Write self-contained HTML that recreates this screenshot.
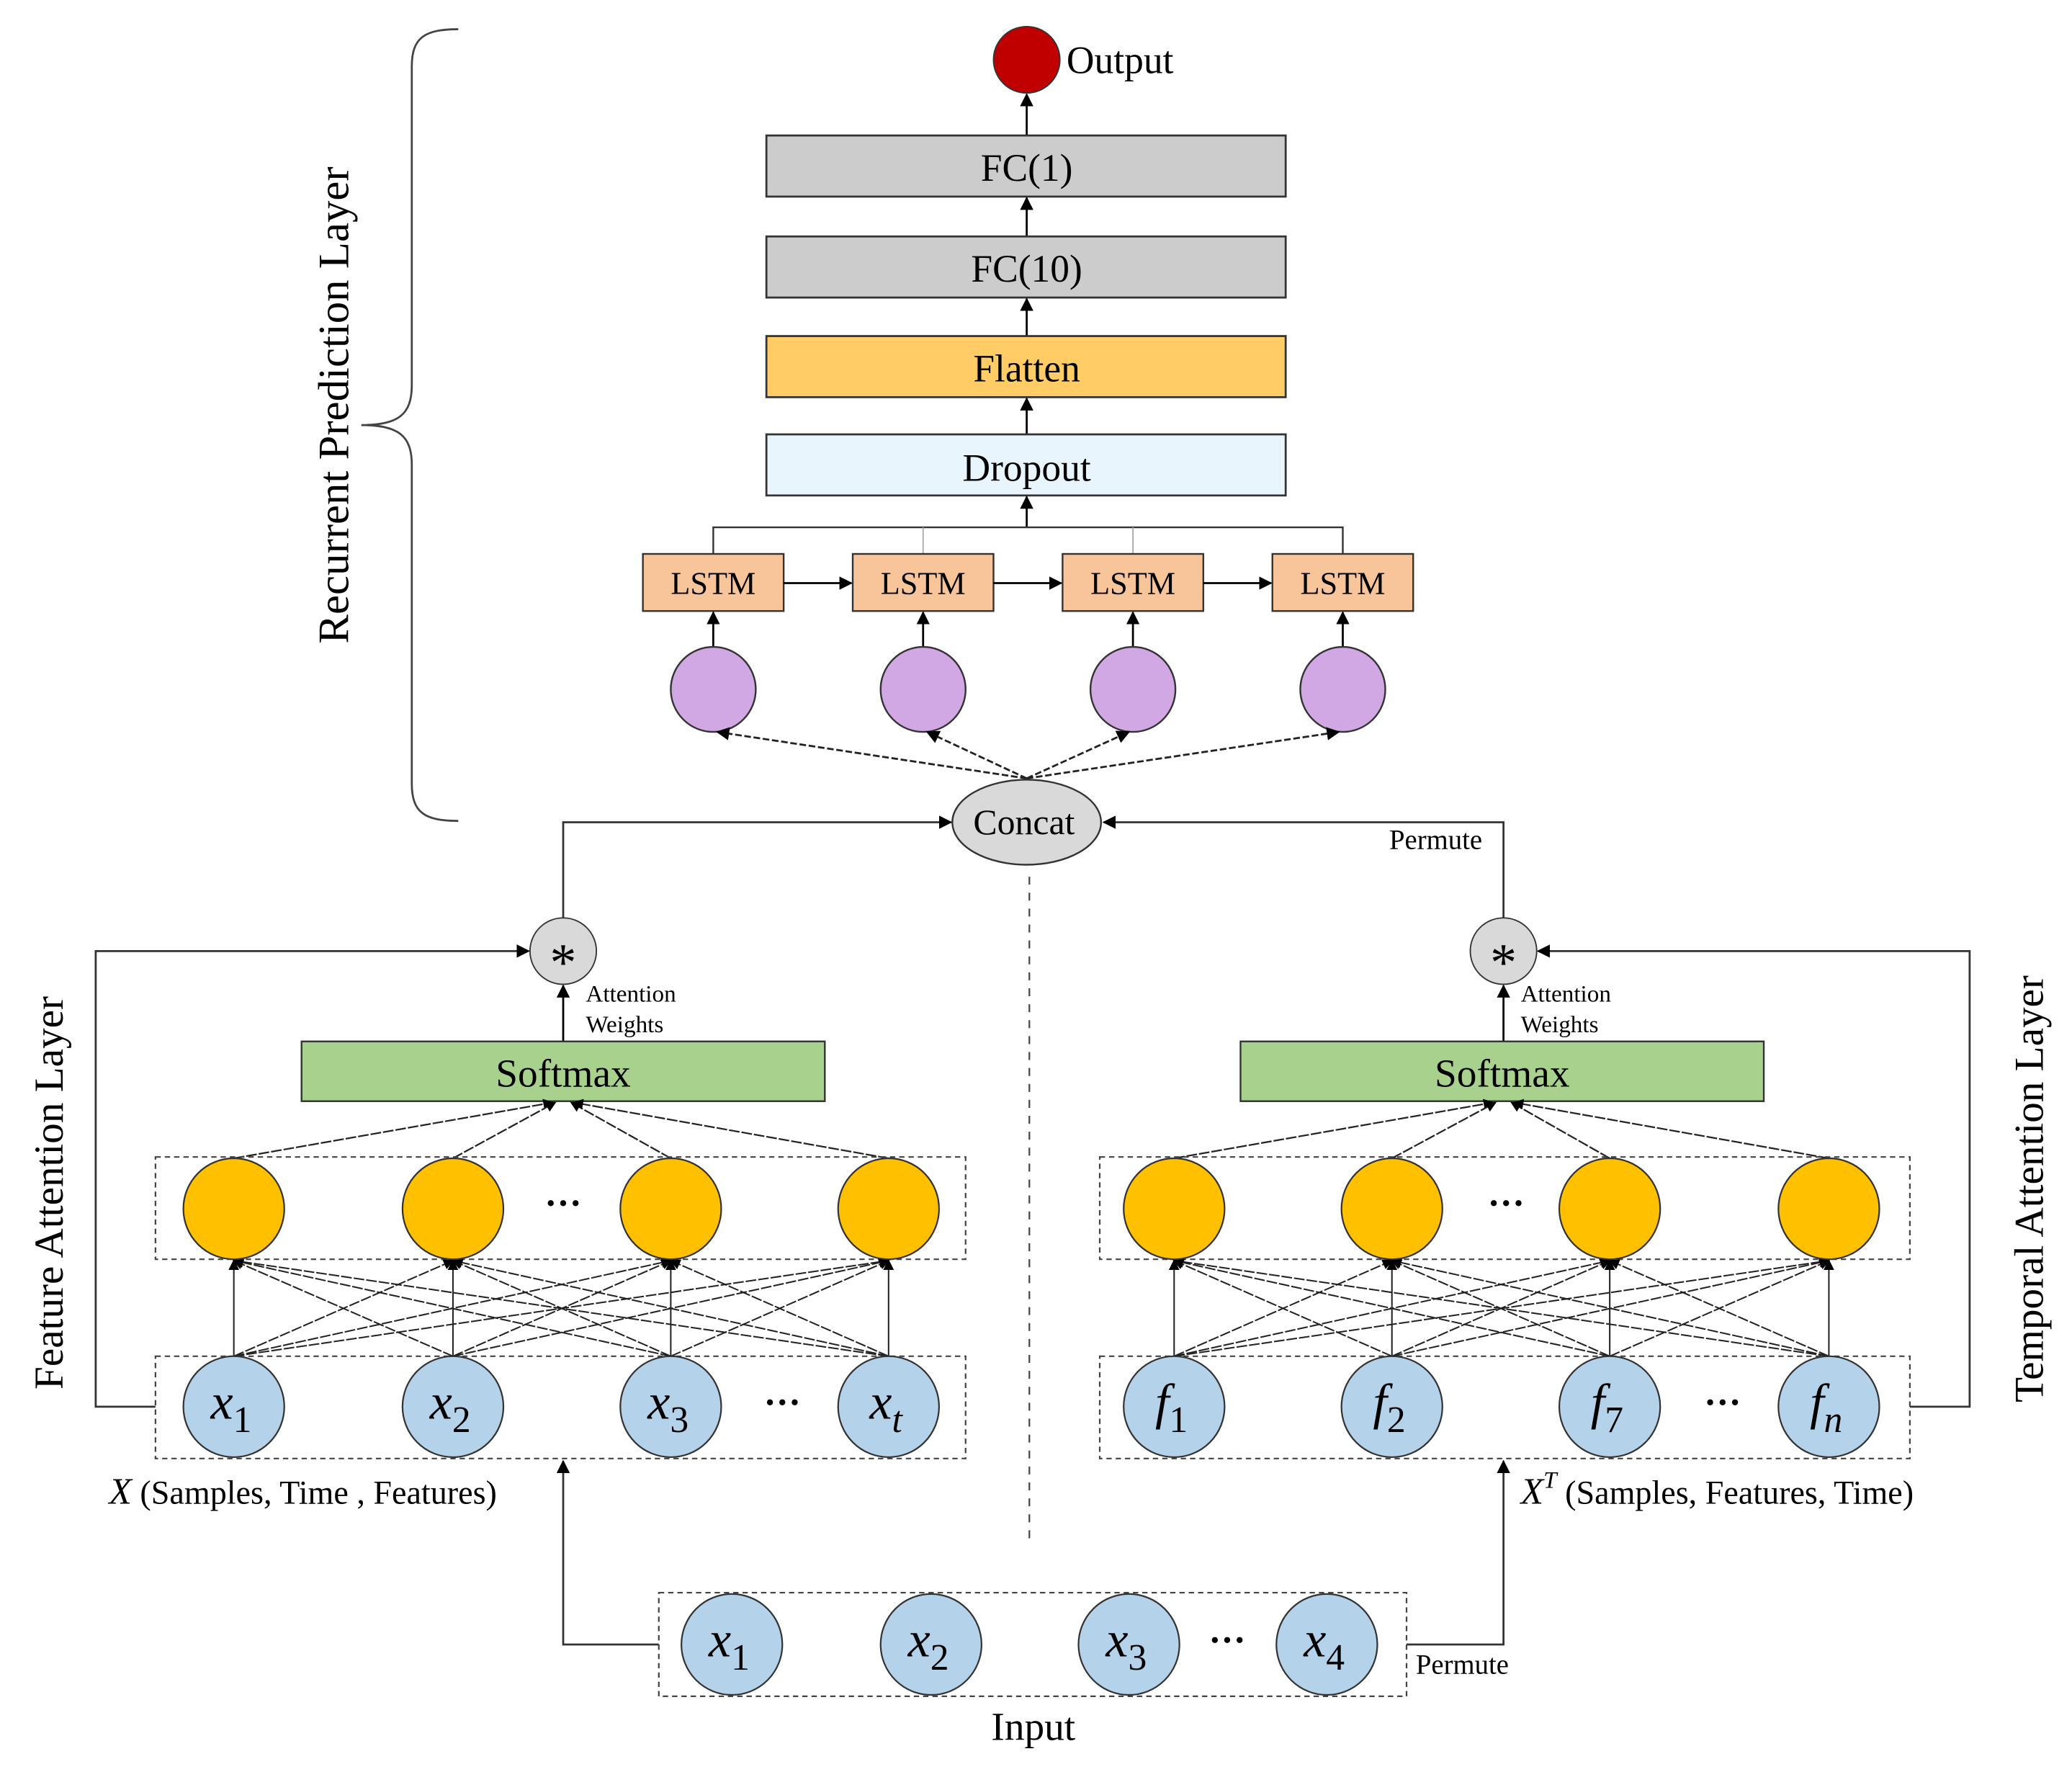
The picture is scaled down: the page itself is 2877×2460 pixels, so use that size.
<!DOCTYPE html>
<html><head><meta charset="utf-8"><style>
html,body{margin:0;padding:0;background:#fff;}
svg{display:block;}
text{font-family:"Liberation Serif",serif;fill:#000;}
</style></head><body>
<svg width="2877" height="2460" viewBox="0 0 1560 1334" xmlns="http://www.w3.org/2000/svg">
<defs>
<marker id="a" markerWidth="10" markerHeight="10" refX="9" refY="5" orient="auto" markerUnits="userSpaceOnUse"><path d="M0,0 L10,5 L0,10 z" fill="#000"/></marker>
<marker id="s" markerWidth="8" markerHeight="8" refX="7" refY="4" orient="auto" markerUnits="userSpaceOnUse"><path d="M0,0 L8,4 L0,8 z" fill="#000"/></marker>
</defs>
<rect width="1560" height="1334" fill="#fff"/>

<!-- brace -->
<path d="M345,22 C320,22 310,28 310,50 L310,290 C310,312 300,320 272,320 C300,320 310,328 310,350 L310,590 C310,612 320,618 345,618" fill="none" stroke="#444" stroke-width="1.5"/>
<text transform="translate(262,305) rotate(-90)" text-anchor="middle" font-size="33">Recurrent Prediction Layer</text>
<text transform="translate(47,898) rotate(-90)" text-anchor="middle" font-size="31">Feature Attention Layer</text>
<text transform="translate(1538,895) rotate(-90)" text-anchor="middle" font-size="31">Temporal Attention Layer</text>

<!-- output -->
<line x1="773" y1="102" x2="773" y2="71" stroke="#000" stroke-width="1.5" marker-end="url(#a)"/>
<circle cx="773" cy="45" r="25" fill="#c00000" stroke="#333"/>
<text x="803" y="55" font-size="29">Output</text>

<rect x="577" y="102" width="391" height="46" fill="#cccccc" stroke="#333" stroke-width="1.5"/>
<text x="773" y="136" text-anchor="middle" font-size="29">FC(1)</text>
<line x1="773" y1="178" x2="773" y2="149" stroke="#000" stroke-width="1.5" marker-end="url(#a)"/>
<rect x="577" y="178" width="391" height="46" fill="#cccccc" stroke="#333" stroke-width="1.5"/>
<text x="773" y="212" text-anchor="middle" font-size="29">FC(10)</text>
<line x1="773" y1="253" x2="773" y2="225" stroke="#000" stroke-width="1.5" marker-end="url(#a)"/>
<rect x="577" y="253" width="391" height="46" fill="#ffcc66" stroke="#333" stroke-width="1.5"/>
<text x="773" y="287" text-anchor="middle" font-size="29">Flatten</text>
<line x1="773" y1="327" x2="773" y2="300" stroke="#000" stroke-width="1.5" marker-end="url(#a)"/>
<rect x="577" y="327" width="391" height="46" fill="#e8f5fd" stroke="#333" stroke-width="1.5"/>
<text x="773" y="362" text-anchor="middle" font-size="29">Dropout</text>
<line x1="773" y1="397" x2="773" y2="374" stroke="#000" stroke-width="1.5" marker-end="url(#a)"/>

<!-- LSTM bus -->
<path d="M537,417 L537,397 L1011,397 L1011,417" fill="none" stroke="#333" stroke-width="1.3"/>
<line x1="695" y1="397" x2="695" y2="417" stroke="#aaa"/>
<line x1="853" y1="397" x2="853" y2="417" stroke="#aaa"/>
<g fill="#f8c49a" stroke="#333" stroke-width="1.3">
<rect x="484" y="417" width="106" height="43"/><rect x="642" y="417" width="106" height="43"/>
<rect x="800" y="417" width="106" height="43"/><rect x="958" y="417" width="106" height="43"/>
</g>
<g font-size="24" text-anchor="middle">
<text x="537" y="447">LSTM</text><text x="695" y="447">LSTM</text><text x="853" y="447">LSTM</text><text x="1011" y="447">LSTM</text>
</g>
<g stroke="#000" stroke-width="1.5">
<line x1="590" y1="439" x2="641" y2="439" marker-end="url(#a)"/>
<line x1="748" y1="439" x2="799" y2="439" marker-end="url(#a)"/>
<line x1="906" y1="439" x2="957" y2="439" marker-end="url(#a)"/>
<line x1="537" y1="488" x2="537" y2="461" marker-end="url(#a)"/>
<line x1="695" y1="488" x2="695" y2="461" marker-end="url(#a)"/>
<line x1="853" y1="488" x2="853" y2="461" marker-end="url(#a)"/>
<line x1="1011" y1="488" x2="1011" y2="461" marker-end="url(#a)"/>
</g>
<g fill="#d2a8e4" stroke="#333" stroke-width="1.3">
<ellipse cx="537" cy="519" rx="32" ry="32"/><ellipse cx="695" cy="519" rx="32" ry="32"/>
<ellipse cx="853" cy="519" rx="32" ry="32"/><ellipse cx="1011" cy="519" rx="32" ry="32"/>
</g>
<g stroke="#222" stroke-width="1.5" stroke-dasharray="5,2">
<line x1="773" y1="586" x2="540" y2="551" marker-end="url(#a)"/>
<line x1="773" y1="586" x2="698" y2="551" marker-end="url(#a)"/>
<line x1="773" y1="586" x2="850" y2="551" marker-end="url(#a)"/>
<line x1="773" y1="586" x2="1008" y2="551" marker-end="url(#a)"/>
</g>

<!-- concat -->
<ellipse cx="773" cy="619" rx="56" ry="32" fill="#d9d9d9" stroke="#333" stroke-width="1.3"/>
<text x="771" y="628" text-anchor="middle" font-size="27">Concat</text>
<path d="M424,691 L424,619 L716,619" fill="none" stroke="#333" stroke-width="1.5" marker-end="url(#a)"/>
<path d="M1132,691 L1132,619 L831,619" fill="none" stroke="#333" stroke-width="1.5" marker-end="url(#a)"/>
<text x="1046" y="639" font-size="21">Permute</text>
<line x1="775" y1="660" x2="775" y2="1162" stroke="#444" stroke-width="1.2" stroke-dasharray="6,6"/>

<!-- star nodes -->
<circle cx="424" cy="716" r="25" fill="#d9d9d9" stroke="#333"/>
<text x="424" y="738" text-anchor="middle" font-size="40">*</text>
<circle cx="1132" cy="716" r="25" fill="#d9d9d9" stroke="#333"/>
<text x="1132" y="738" text-anchor="middle" font-size="40">*</text>
<g stroke="#000" stroke-width="1.5">
<line x1="424" y1="784" x2="424" y2="742" marker-end="url(#a)"/>
<line x1="1132" y1="784" x2="1132" y2="742" marker-end="url(#a)"/>
</g>
<g font-size="18"><text x="441" y="754">Attention</text><text x="441" y="777">Weights</text>
<text x="1145" y="754">Attention</text><text x="1145" y="777">Weights</text></g>

<!-- feedback lines -->
<path d="M117,1059 L72,1059 L72,716 L398,716" fill="none" stroke="#333" stroke-width="1.5" marker-end="url(#a)"/>
<path d="M1438,1059 L1483,1059 L1483,716 L1158,716" fill="none" stroke="#333" stroke-width="1.5" marker-end="url(#a)"/>

<!-- softmax -->
<rect x="227" y="784" width="394" height="45" fill="#a9d18e" stroke="#333" stroke-width="1.3"/>
<text x="424" y="818" text-anchor="middle" font-size="30">Softmax</text>
<rect x="934" y="784" width="394" height="45" fill="#a9d18e" stroke="#333" stroke-width="1.3"/>
<text x="1131" y="818" text-anchor="middle" font-size="30">Softmax</text>

<g stroke="#222" stroke-width="1.2" stroke-dasharray="8,1.5">
<line x1="176" y1="872" x2="416" y2="830" marker-end="url(#s)"/>
<line x1="341" y1="872" x2="418" y2="830" marker-end="url(#s)"/>
<line x1="505" y1="872" x2="430" y2="830" marker-end="url(#s)"/>
<line x1="669" y1="872" x2="432" y2="830" marker-end="url(#s)"/>
<line x1="884" y1="872" x2="1124" y2="830" marker-end="url(#s)"/>
<line x1="1048" y1="872" x2="1126" y2="830" marker-end="url(#s)"/>
<line x1="1212" y1="872" x2="1138" y2="830" marker-end="url(#s)"/>
<line x1="1377" y1="872" x2="1140" y2="830" marker-end="url(#s)"/>
</g>

<!-- dashed boxes -->
<g fill="none" stroke="#444" stroke-width="1.2" stroke-dasharray="4,3">
<rect x="117" y="871" width="610" height="77"/><rect x="117" y="1021" width="610" height="77"/>
<rect x="828" y="871" width="610" height="77"/><rect x="828" y="1021" width="610" height="77"/>
<rect x="496" y="1199" width="563" height="78"/>
</g>

<!-- full connections -->
<g stroke="#222" stroke-width="1.1" stroke-dasharray="8,1.5">
<line x1="176" y1="1021" x2="176" y2="949" marker-end="url(#s)" stroke-dasharray="none"/>
<line x1="176" y1="1021" x2="341" y2="949" marker-end="url(#s)"/>
<line x1="176" y1="1021" x2="505" y2="949" marker-end="url(#s)"/>
<line x1="176" y1="1021" x2="669" y2="949" marker-end="url(#s)"/>
<line x1="341" y1="1021" x2="176" y2="949" marker-end="url(#s)"/>
<line x1="341" y1="1021" x2="341" y2="949" marker-end="url(#s)" stroke-dasharray="none"/>
<line x1="341" y1="1021" x2="505" y2="949" marker-end="url(#s)"/>
<line x1="341" y1="1021" x2="669" y2="949" marker-end="url(#s)"/>
<line x1="505" y1="1021" x2="176" y2="949" marker-end="url(#s)"/>
<line x1="505" y1="1021" x2="341" y2="949" marker-end="url(#s)"/>
<line x1="505" y1="1021" x2="505" y2="949" marker-end="url(#s)" stroke-dasharray="none"/>
<line x1="505" y1="1021" x2="669" y2="949" marker-end="url(#s)"/>
<line x1="669" y1="1021" x2="176" y2="949" marker-end="url(#s)"/>
<line x1="669" y1="1021" x2="341" y2="949" marker-end="url(#s)"/>
<line x1="669" y1="1021" x2="505" y2="949" marker-end="url(#s)"/>
<line x1="669" y1="1021" x2="669" y2="949" marker-end="url(#s)" stroke-dasharray="none"/>

<line x1="884" y1="1021" x2="884" y2="949" marker-end="url(#s)" stroke-dasharray="none"/>
<line x1="884" y1="1021" x2="1048" y2="949" marker-end="url(#s)"/>
<line x1="884" y1="1021" x2="1212" y2="949" marker-end="url(#s)"/>
<line x1="884" y1="1021" x2="1377" y2="949" marker-end="url(#s)"/>
<line x1="1048" y1="1021" x2="884" y2="949" marker-end="url(#s)"/>
<line x1="1048" y1="1021" x2="1048" y2="949" marker-end="url(#s)" stroke-dasharray="none"/>
<line x1="1048" y1="1021" x2="1212" y2="949" marker-end="url(#s)"/>
<line x1="1048" y1="1021" x2="1377" y2="949" marker-end="url(#s)"/>
<line x1="1212" y1="1021" x2="884" y2="949" marker-end="url(#s)"/>
<line x1="1212" y1="1021" x2="1048" y2="949" marker-end="url(#s)"/>
<line x1="1212" y1="1021" x2="1212" y2="949" marker-end="url(#s)" stroke-dasharray="none"/>
<line x1="1212" y1="1021" x2="1377" y2="949" marker-end="url(#s)"/>
<line x1="1377" y1="1021" x2="884" y2="949" marker-end="url(#s)"/>
<line x1="1377" y1="1021" x2="1048" y2="949" marker-end="url(#s)"/>
<line x1="1377" y1="1021" x2="1212" y2="949" marker-end="url(#s)"/>
<line x1="1377" y1="1021" x2="1377" y2="949" marker-end="url(#s)" stroke-dasharray="none"/>
</g>

<!-- yellow nodes -->
<g fill="#ffc000" stroke="#333" stroke-width="1.2">
<ellipse cx="176" cy="910" rx="38" ry="38"/><ellipse cx="341" cy="910" rx="38" ry="38"/>
<ellipse cx="505" cy="910" rx="38" ry="38"/><ellipse cx="669" cy="910" rx="38" ry="38"/>
<ellipse cx="884" cy="910" rx="38" ry="38"/><ellipse cx="1048" cy="910" rx="38" ry="38"/>
<ellipse cx="1212" cy="910" rx="38" ry="38"/><ellipse cx="1377" cy="910" rx="38" ry="38"/>
</g>
<g font-size="28" font-weight="bold" text-anchor="middle">
<text x="424" y="915">···</text><text x="1134" y="915">···</text>
<text x="589" y="1065">···</text><text x="1297" y="1065">···</text><text x="924" y="1244">···</text>
</g>

<!-- blue nodes -->
<g fill="#b4d3ea" stroke="#333" stroke-width="1.2">
<ellipse cx="176" cy="1059" rx="38" ry="38"/><ellipse cx="341" cy="1059" rx="38" ry="38"/>
<ellipse cx="505" cy="1059" rx="38" ry="38"/><ellipse cx="669" cy="1059" rx="38" ry="38"/>
<ellipse cx="884" cy="1059" rx="38" ry="38"/><ellipse cx="1048" cy="1059" rx="38" ry="38"/>
<ellipse cx="1212" cy="1059" rx="38" ry="38"/><ellipse cx="1377" cy="1059" rx="38" ry="38"/>
<ellipse cx="551" cy="1238" rx="38" ry="38"/><ellipse cx="701" cy="1238" rx="38" ry="38"/>
<ellipse cx="850" cy="1238" rx="38" ry="38"/><ellipse cx="999" cy="1238" rx="38" ry="38"/>
</g>
<g font-size="38" font-style="italic" text-anchor="middle" font-family="Liberation Serif, serif">
<text x="174" y="1068">x<tspan font-size="28" font-style="normal" dy="10">1</tspan></text>
<text x="339" y="1068">x<tspan font-size="28" font-style="normal" dy="10">2</tspan></text>
<text x="503" y="1068">x<tspan font-size="28" font-style="normal" dy="10">3</tspan></text>
<text x="667" y="1068">x<tspan font-size="28" dy="10">t</tspan></text>
<text x="882" y="1068">f<tspan font-size="28" font-style="normal" dy="10">1</tspan></text>
<text x="1046" y="1068">f<tspan font-size="28" font-style="normal" dy="10">2</tspan></text>
<text x="1210" y="1068">f<tspan font-size="28" font-style="normal" dy="10">7</tspan></text>
<text x="1375" y="1068">f<tspan font-size="28" dy="10">n</tspan></text>
<text x="549" y="1247">x<tspan font-size="28" font-style="normal" dy="10">1</tspan></text>
<text x="699" y="1247">x<tspan font-size="28" font-style="normal" dy="10">2</tspan></text>
<text x="848" y="1247">x<tspan font-size="28" font-style="normal" dy="10">3</tspan></text>
<text x="997" y="1247">x<tspan font-size="28" font-style="normal" dy="10">4</tspan></text>
</g>

<!-- input connections -->
<path d="M496,1238 L424,1238 L424,1100" fill="none" stroke="#333" stroke-width="1.5" marker-end="url(#a)"/>
<path d="M1059,1238 L1132,1238 L1132,1100" fill="none" stroke="#333" stroke-width="1.5" marker-end="url(#a)"/>
<text x="1066" y="1260" font-size="21">Permute</text>
<text x="778" y="1310" text-anchor="middle" font-size="30">Input</text>

<text x="82" y="1132" font-size="25"><tspan font-style="italic" font-size="28">X</tspan> (Samples, Time , Features)</text>
<text x="1145" y="1132" font-size="25"><tspan font-style="italic" font-size="28">X</tspan><tspan font-style="italic" font-size="18" dy="-12">T</tspan><tspan dy="12"> (Samples, Features, Time)</tspan></text>
</svg>
</body></html>
